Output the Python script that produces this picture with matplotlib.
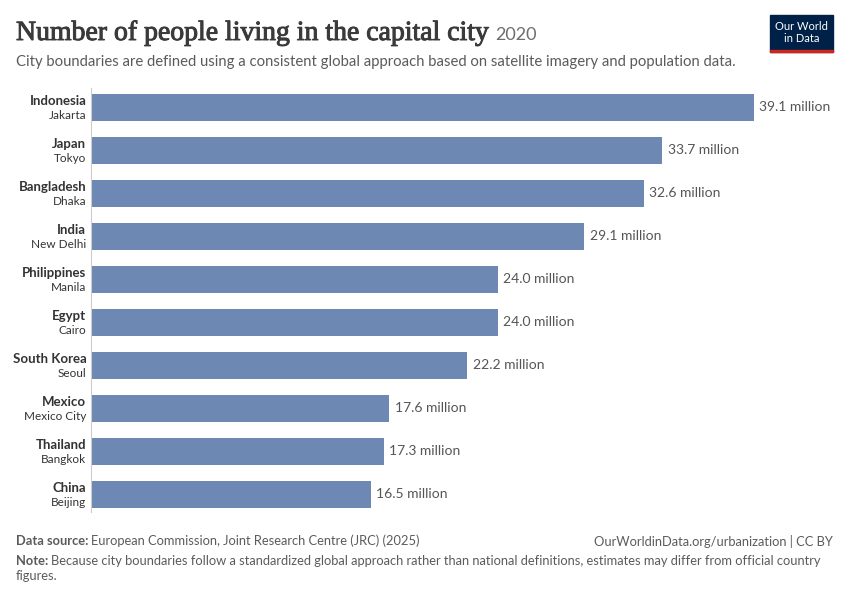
import matplotlib
matplotlib.use('Agg')
import matplotlib.pyplot as plt
import matplotlib.patheffects as pe
from matplotlib.patches import Rectangle

countries = ['Indonesia', 'Japan', 'Bangladesh', 'India', 'Philippines',
             'Egypt', 'South Korea', 'Mexico', 'Thailand', 'China']
cities = ['Jakarta', 'Tokyo', 'Dhaka', 'New Delhi', 'Manila',
          'Cairo', 'Seoul', 'Mexico City', 'Bangkok', 'Beijing']
population_m = [39.1, 33.7, 32.6, 29.1, 24.0, 24.0, 22.2, 17.6, 17.3, 16.5]

plt.rcParams['font.family'] = ['Lato', 'DejaVu Sans']

W, H = 850, 600
fig = plt.figure(figsize=(8.5, 6), dpi=100)

def fx(px): return px / W
def fy(py): return 1 - py / H

# axes: left edge at the grey axis line, bars scaled so 39.1 ends at x=754
left, right = 91, 840
ax = fig.add_axes([fx(left), fy(512), fx(right - left), fy(88) - fy(512)])
xmax = max(population_m) * (right - left) / (754 - left)
ax.set_xlim(0, xmax)
ax.set_ylim(len(countries) - 1 + 0.41, -0.45)

ypos = list(range(len(countries)))
ax.barh(ypos, population_m, height=0.63, color='#6d88b2')
for y, v in zip(ypos, population_m):
    ax.text(v + 0.3, y, '{:.1f} million'.format(v), va='center', ha='left',
            fontsize=10, color='#555555')
    ax.text(-0.28, y - 0.14, countries[y], va='center', ha='right',
            fontsize=9.5, fontweight='bold', color='#333333', clip_on=False)
    ax.text(-0.28, y + 0.2, cities[y], va='center', ha='right',
            fontsize=8.5, color='#333333', clip_on=False)

for s in ['top', 'right', 'bottom']:
    ax.spines[s].set_visible(False)
ax.spines['left'].set_color('#cccccc')
ax.set_xticks([])
ax.set_yticks([])

# title & subtitle (thin stroke to get closer to the heavier serif of the original)
t = fig.text(fx(16), fy(40), 'Number of people living in the capital city',
             family='Liberation Serif', fontsize=20, color='#3a3a3a', va='baseline',
             path_effects=[pe.withStroke(linewidth=0.7, foreground='#3a3a3a')])
fig.canvas.draw()
bb = t.get_window_extent()
fig.text(bb.x1 / W + fx(6), fy(40), '2020', fontsize=13, color='#6e6e6e', va='baseline')
fig.text(fx(16), fy(62), 'City boundaries are defined using a consistent global approach '
         'based on satellite imagery and population data.',
         fontsize=10.7, color='#5b5b5b', va='center')

# logo
fig.patches.append(Rectangle((fx(770), fy(52)), fx(63), fy(15) - fy(52),
                             transform=fig.transFigure, color='#002147'))
fig.patches.append(Rectangle((fx(770), fy(52)), fx(63), fy(49.5) - fy(52),
                             transform=fig.transFigure, color='#ce261e'))
fig.text(fx(801.5), fy(32.5), 'Our World\nin Data', ha='center', va='center',
         fontsize=8, color='white', linespacing=1.0)

# footer
s = fig.text(fx(16), fy(541), 'Data source:', fontsize=9.3, fontweight='bold',
             color='#5b5b5b', va='center')
fig.canvas.draw()
bb = s.get_window_extent()
fig.text(bb.x1 / W + fx(3), fy(541),
         'European Commission, Joint Research Centre (JRC) (2025)',
         fontsize=9.3, color='#5b5b5b', va='center')
fig.text(fx(833), fy(541), 'OurWorldinData.org/urbanization | CC BY',
         fontsize=9.3, color='#5b5b5b', va='center', ha='right')
n = fig.text(fx(16), fy(561), 'Note:', fontsize=9.3, fontweight='bold',
             color='#5b5b5b', va='center')
fig.canvas.draw()
bb = n.get_window_extent()
fig.text(bb.x1 / W + fx(3), fy(561),
         'Because city boundaries follow a standardized global approach rather than '
         'national definitions, estimates may differ from official country',
         fontsize=9.3, color='#5b5b5b', va='center')
fig.text(fx(16), fy(576), 'figures.', fontsize=9.3, color='#5b5b5b', va='center')

fig.savefig('out.png', dpi=100)
